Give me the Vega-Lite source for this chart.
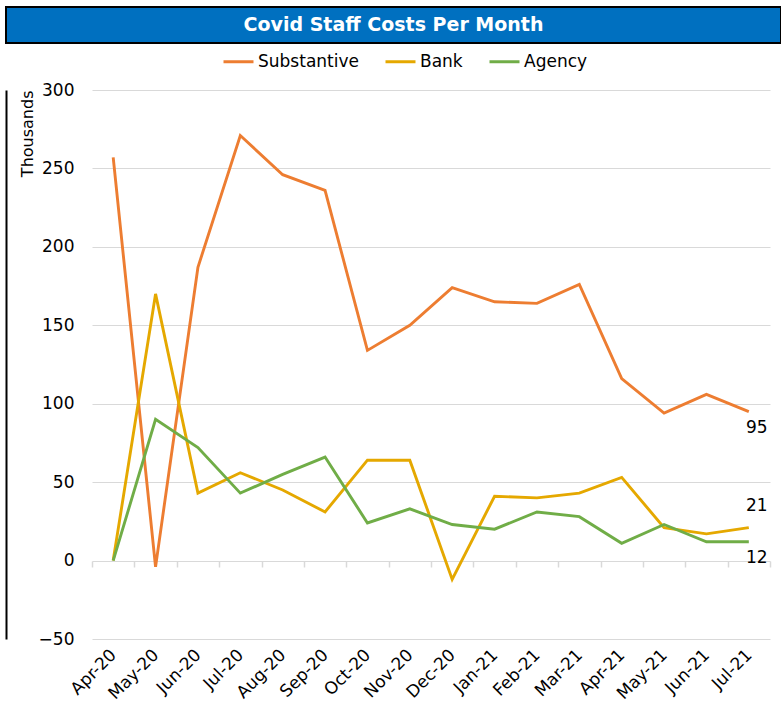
{
  "$schema": "https://vega.github.io/schema/vega-lite/v6.json",
  "padding": {"left": 5, "top": 6, "right": 0, "bottom": 0},
  "background": "white",
  "spacing": 37,
  "config": {"view": {"stroke": null}, "font": "DejaVu Sans"},
  "datasets": {
    "costs": [
      {"month": "Apr-20", "series": "Substantive", "value": 257},
      {"month": "May-20", "series": "Substantive", "value": -4},
      {"month": "Jun-20", "series": "Substantive", "value": 187},
      {"month": "Jul-20", "series": "Substantive", "value": 271},
      {"month": "Aug-20", "series": "Substantive", "value": 246},
      {"month": "Sep-20", "series": "Substantive", "value": 236},
      {"month": "Oct-20", "series": "Substantive", "value": 134},
      {"month": "Nov-20", "series": "Substantive", "value": 150},
      {"month": "Dec-20", "series": "Substantive", "value": 174},
      {"month": "Jan-21", "series": "Substantive", "value": 165},
      {"month": "Feb-21", "series": "Substantive", "value": 164},
      {"month": "Mar-21", "series": "Substantive", "value": 176},
      {"month": "Apr-21", "series": "Substantive", "value": 116},
      {"month": "May-21", "series": "Substantive", "value": 94},
      {"month": "Jun-21", "series": "Substantive", "value": 106},
      {"month": "Jul-21", "series": "Substantive", "value": 95},
      {"month": "Apr-20", "series": "Bank", "value": 0},
      {"month": "May-20", "series": "Bank", "value": 170},
      {"month": "Jun-20", "series": "Bank", "value": 43},
      {"month": "Jul-20", "series": "Bank", "value": 56},
      {"month": "Aug-20", "series": "Bank", "value": 45},
      {"month": "Sep-20", "series": "Bank", "value": 31},
      {"month": "Oct-20", "series": "Bank", "value": 64},
      {"month": "Nov-20", "series": "Bank", "value": 64},
      {"month": "Dec-20", "series": "Bank", "value": -12},
      {"month": "Jan-21", "series": "Bank", "value": 41},
      {"month": "Feb-21", "series": "Bank", "value": 40},
      {"month": "Mar-21", "series": "Bank", "value": 43},
      {"month": "Apr-21", "series": "Bank", "value": 53},
      {"month": "May-21", "series": "Bank", "value": 21},
      {"month": "Jun-21", "series": "Bank", "value": 17},
      {"month": "Jul-21", "series": "Bank", "value": 21},
      {"month": "Apr-20", "series": "Agency", "value": 0},
      {"month": "May-20", "series": "Agency", "value": 90},
      {"month": "Jun-20", "series": "Agency", "value": 72},
      {"month": "Jul-20", "series": "Agency", "value": 43},
      {"month": "Aug-20", "series": "Agency", "value": 55},
      {"month": "Sep-20", "series": "Agency", "value": 66},
      {"month": "Oct-20", "series": "Agency", "value": 24},
      {"month": "Nov-20", "series": "Agency", "value": 33},
      {"month": "Dec-20", "series": "Agency", "value": 23},
      {"month": "Jan-21", "series": "Agency", "value": 20},
      {"month": "Feb-21", "series": "Agency", "value": 31},
      {"month": "Mar-21", "series": "Agency", "value": 28},
      {"month": "Apr-21", "series": "Agency", "value": 11},
      {"month": "May-21", "series": "Agency", "value": 23},
      {"month": "Jun-21", "series": "Agency", "value": 12},
      {"month": "Jul-21", "series": "Agency", "value": 12}
    ]
  },
  "vconcat": [
    {
      "width": 775,
      "height": 36,
      "view": {"fill": "#0070C0", "stroke": "black", "strokeWidth": 2},
      "data": {"values": [{"title": "Covid Staff Costs Per Month"}]},
      "mark": {"type": "text", "color": "white", "fontWeight": "bold", "fontSize": 19, "baseline": "middle", "align": "center", "font": "DejaVu Sans"},
      "encoding": {"text": {"field": "title", "type": "nominal"}}
    },
    {
      "spacing": -1,
      "hconcat": [
        {
          "width": 1,
          "height": 549,
          "data": {"values": []},
          "mark": "point"
        },
        {
          "width": 678,
          "height": 549,
          "data": {"name": "costs"},
          "layer": [
            {
              "encoding": {
                "x": {
                  "field": "month", "type": "ordinal", "sort": null,
                  "scale": {"type": "point", "padding": 0.5},
                  "axis": {"title": null, "labelAngle": -45, "labelAlign": "right", "labelBaseline": "middle", "labelPadding": 13, "labelFontSize": 17, "labelColor": "#000", "ticks": false, "domain": false, "grid": false}
                },
                "y": {
                  "field": "value", "type": "quantitative",
                  "scale": {"domain": [-50, 300], "nice": false, "zero": false},
                  "axis": {"values": [-50, 0, 50, 100, 150, 200, 250, 300], "title": "Thousands", "titleAnchor": "end", "titleFontSize": 16, "titleFontWeight": "normal", "titleColor": "#000", "titlePadding": 3, "labelFontSize": 17, "labelColor": "#000", "labelPadding": 18, "ticks": false, "domain": false, "grid": true, "gridColor": "#D9D9D9", "gridWidth": 1.2}
                }
              },
              "layer": [
                {
                  "mark": {"type": "line", "strokeWidth": 2.9},
                  "encoding": {
                    "color": {
                      "field": "series", "type": "nominal",
                      "scale": {"domain": ["Substantive", "Bank", "Agency"], "range": ["#ED7D31", "#E5A800", "#70AD47"]},
                      "legend": {"orient": "none", "legendX": 216, "legendY": 38, "direction": "horizontal", "title": null, "symbolType": "stroke", "symbolStrokeWidth": 3, "symbolSize": 900, "labelFontSize": 17, "labelColor": "#000", "columnPadding": 20, "labelOffset": 3}
                    }
                  }
                },
                {
                  "transform": [{"filter": "datum.month == 'Jul-21' && datum.series == 'Substantive'"}],
                  "mark": {"type": "text", "dx": 8, "dy": 16, "fontSize": 17, "color": "#000", "align": "center", "baseline": "middle"},
                  "encoding": {"text": {"field": "value", "type": "quantitative", "format": ".0f"}}
                },
                {
                  "transform": [{"filter": "datum.month == 'Jul-21' && datum.series == 'Bank'"}],
                  "mark": {"type": "text", "dx": 8, "dy": -22, "fontSize": 17, "color": "#000", "align": "center", "baseline": "middle"},
                  "encoding": {"text": {"field": "value", "type": "quantitative", "format": ".0f"}}
                },
                {
                  "transform": [{"filter": "datum.month == 'Jul-21' && datum.series == 'Agency'"}],
                  "mark": {"type": "text", "dx": 8, "dy": 16, "fontSize": 17, "color": "#000", "align": "center", "baseline": "middle"},
                  "encoding": {"text": {"field": "value", "type": "quantitative", "format": ".0f"}}
                }
              ]
            },
            {
              "mark": {"type": "point", "opacity": 0},
              "encoding": {
                "x": {
                  "field": "month", "type": "ordinal", "sort": null,
                  "scale": {"type": "band", "paddingInner": 0, "paddingOuter": 0},
                  "axis": {"orient": "bottom", "offset": -78, "title": null, "labels": false, "domain": false, "grid": false, "ticks": true, "tickBand": "extent", "tickColor": "#D9D9D9", "tickWidth": 1.5, "tickSize": 6}
                },
                "y": {
                  "field": "value", "type": "quantitative",
                  "axis": {"orient": "left", "offset": 86, "title": null, "labels": false, "ticks": false, "grid": false, "domain": true, "domainColor": "black", "domainWidth": 2}
                }
              }
            }
          ],
          "resolve": {"scale": {"x": "independent", "y": "independent"}, "axis": {"x": "independent", "y": "independent"}}
        }
      ]
    }
  ]
}
